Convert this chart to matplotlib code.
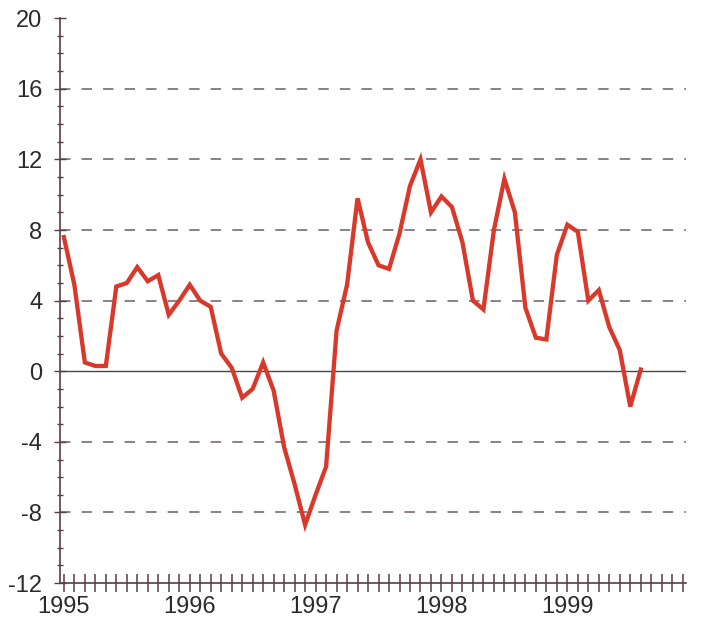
import matplotlib.pyplot as plt
from matplotlib.ticker import MultipleLocator

plt.rcParams['font.family'] = ['Liberation Sans', 'DejaVu Sans']
plt.rcParams['lines.scale_dashes'] = False

# monthly values, Jan 1995 .. Aug 1999
values = [7.6, 4.9, 0.5, 0.3, 0.3, 4.8, 5.0, 5.9, 5.1, 5.45, 3.2, 4.0,
          4.9, 4.0, 3.65, 1.0, 0.2, -1.5, -1.0, 0.5, -1.1, -4.3, -6.4, -8.7,
          -7.0, -5.4, 2.3, 4.9, 9.8, 7.3, 6.0, 5.8, 7.8, 10.5, 12.0, 9.0,
          9.9, 9.3, 7.3, 4.0, 3.5, 8.0, 10.9, 9.0, 3.6, 1.9, 1.8, 6.6,
          8.3, 7.9, 4.0, 4.6, 2.5, 1.2, -2.0, 0.1]
months = list(range(len(values)))
years = ['1995', '1996', '1997', '1998', '1999']
y_major = [-12, -8, -4, 0, 4, 8, 12, 16, 20]
grid_levels = [-8, -4, 4, 8, 12, 16]

axis_col = '#5a3c44'
grid_col = '#6e5c64'
line_col = '#d8392a'
text_col = '#2e2a2b'

fig = plt.figure(figsize=(7.02, 6.27), dpi=100)
ax = fig.add_axes([0.085, 0.070, 0.892, 0.901])

for g in grid_levels:
    ax.axhline(g, color=grid_col, lw=1.1, dashes=(7.5, 8.0), zorder=1)
ax.axhline(0, color='#4a4446', lw=1.0, zorder=1)

ax.plot(months, values, color=line_col, lw=3.1, solid_joinstyle='miter', zorder=3)

ax.set_xlim(-0.4, 59.3)
ax.set_ylim(-12, 20)

for s in ['top', 'right']:
    ax.spines[s].set_visible(False)
for s in ['left', 'bottom']:
    ax.spines[s].set_color(axis_col)
    ax.spines[s].set_linewidth(1.2)

ax.set_yticks(y_major)
ax.set_yticklabels([str(v) for v in y_major])
ax.yaxis.set_minor_locator(MultipleLocator(1))
ax.tick_params(axis='y', which='major', direction='inout', length=9, width=1.0,
               color=axis_col, labelsize=17, labelcolor=text_col, pad=8)
ax.tick_params(axis='y', which='minor', direction='inout', length=5, width=1.0,
               color=axis_col)

ax.set_xticks(range(0, 60))
ax.set_xticklabels([years[i // 12] if i % 12 == 0 else '' for i in range(60)])
ax.tick_params(axis='x', which='major', direction='inout', length=13, width=1.1,
               color=axis_col, labelsize=17, labelcolor=text_col, pad=3)

fig.savefig('out.png', dpi=100)
